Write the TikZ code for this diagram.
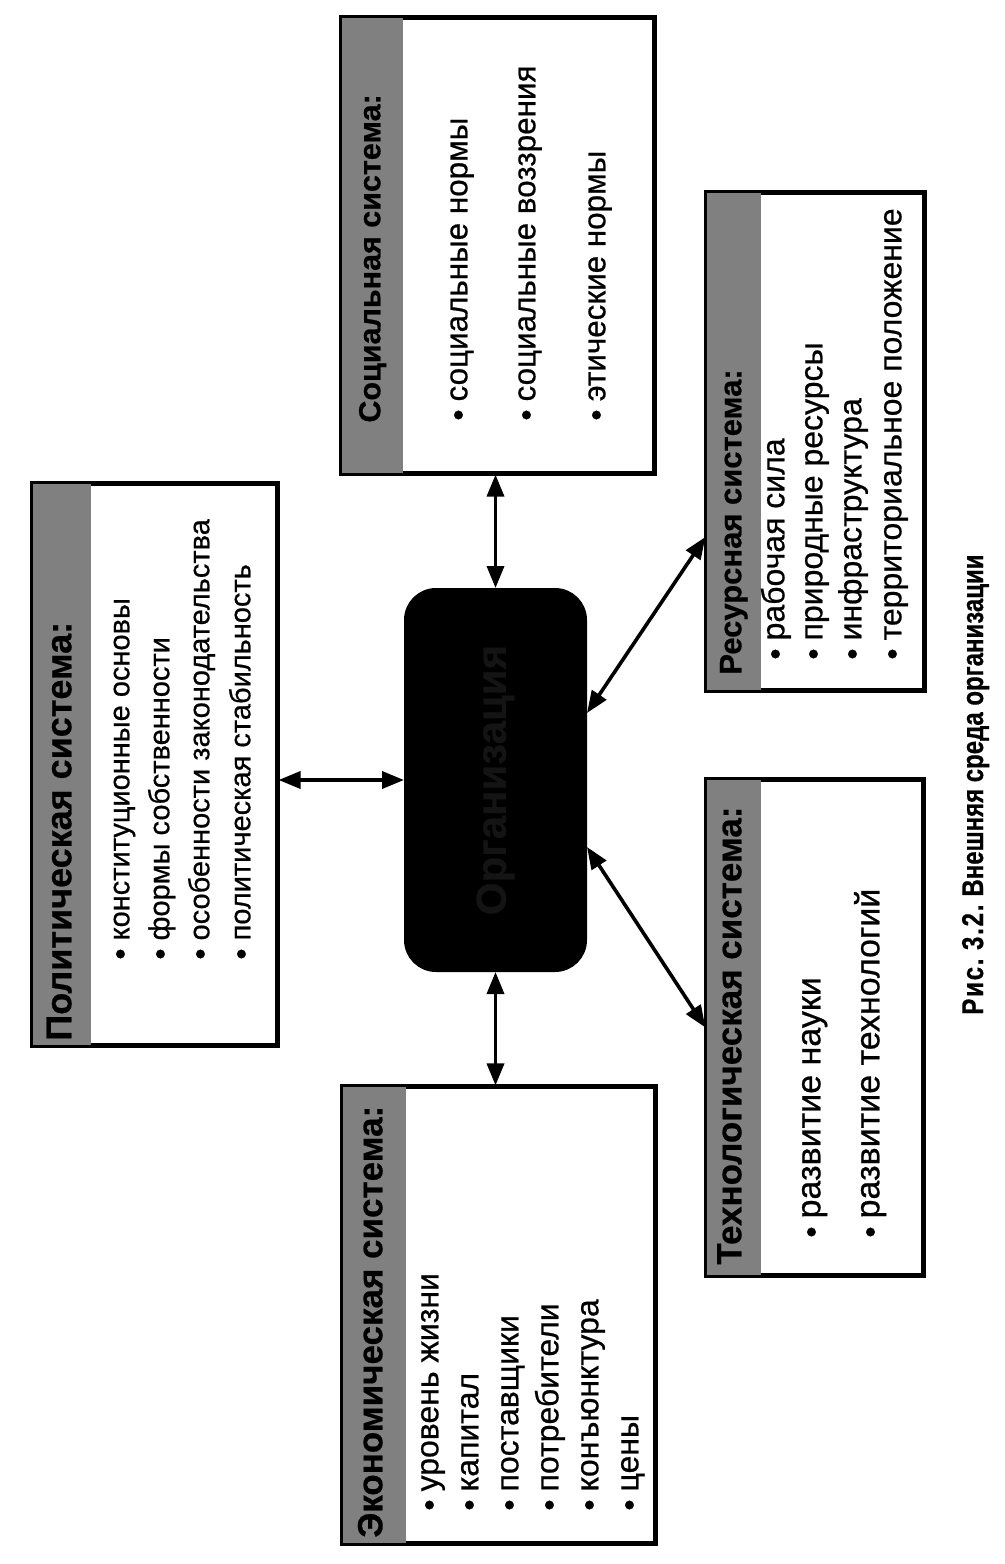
\documentclass[tikz,border=0pt]{standalone}
\usepackage{fontspec}
\setmainfont{Liberation Sans}[FakeBold=0.6]
\newfontfamily\capfont{Liberation Sans}[FakeStretch=0.8,FakeBold=0.6]
\usetikzlibrary{fit,arrows.meta}
\newcommand{\bul}{\raisebox{-0.9pt}{\fontsize{16pt}{16pt}\selectfont •}\hspace{4pt}}
\begin{document}
\begin{tikzpicture}[x=0.5pt,y=-0.5pt,
  box/.style={draw, line width=1.6pt, inner sep=0pt, fill=white},
  band/.style={fill=black!50},
  frame/.style={draw, line width=1.6pt},
  item/.style={rotate=90, anchor=mid west, inner sep=0pt, font=\fontsize{#1}{#1}\selectfont},
  head/.style={rotate=90, anchor=mid west, inner sep=0pt, font=\bfseries\fontsize{#1}{#1}\selectfont},
  link/.style={line width=1.8pt, {Triangle[length=11pt,width=8.5pt]}-{Triangle[length=11pt,width=8.5pt]}},
]
\useasboundingbox (0,0) rectangle (1005,1564);

% ---------- boxes ----------
\node[box, fit={(33,484) (277,1045)}] (pol) {};
\fill[band] (pol.north west) rectangle ([xshift=30pt]pol.south west);
\draw[frame] (pol.north west) rectangle (pol.south east);

\node[box, fit={(342,18) (654,473)}] (soc) {};
\fill[band] (soc.north west) rectangle ([xshift=31.5pt]soc.south west);
\draw[frame] (soc.north west) rectangle (soc.south east);

\node[box, fit={(707,193) (924,690)}] (res) {};
\fill[band] (res.north west) rectangle ([xshift=28pt]res.south west);
\draw[frame] (res.north west) rectangle (res.south east);

\node[box, fit={(707,780) (923,1275)}] (tec) {};
\fill[band] (tec.north west) rectangle ([xshift=28pt]tec.south west);
\draw[frame] (tec.north west) rectangle (tec.south east);

\node[box, fit={(343,1087) (655,1543)}] (eco) {};
\fill[band] (eco.north west) rectangle ([xshift=32.5pt]eco.south west);
\draw[frame] (eco.north west) rectangle (eco.south east);

% ---------- centre ----------
\node[fit={(406,590) (585,970)}, inner sep=0pt, draw, fill=black,
      rounded corners=15pt, line width=2pt] (org) {};
\node[rotate=90, inner sep=0pt, text=black!92,
      font=\bfseries\fontsize{21pt}{21pt}\selectfont] (orgt) at (org.center) {Организация};

% ---------- headers ----------
\node[head=18pt]    (polh) at (66,1041)  {Политическая система:};
\node[head=15.25pt] (soch) at (375,423)  {Социальная система:};
\node[head=15.5pt]  (resh) at (736,675)  {Ресурсная система:};
\node[head=17.5pt]  (tech) at (736,1265) {Технологическая система:};
\node[head=17.5pt]  (ecoh) at (377,1538) {Экономическая система:};

% ---------- items ----------
\node[item=14.5pt] (pol1) at (124,960) {\bul конституционные основы};
\node[item=14.5pt] (pol2) at (164,960) {\bul формы собственности};
\node[item=14.5pt] (pol3) at (204,960) {\bul особенности законодательства};
\node[item=14.5pt] (pol4) at (245,960) {\bul политическая стабильность};

\node[item=15.7pt] (soc1) at (462,421) {\bul социальные нормы};
\node[item=15.7pt] (soc2) at (530,421) {\bul социальные воззрения};
\node[item=15.7pt] (soc3) at (600,421) {\bul этические нормы};

\node[item=16pt] (res1) at (779,660) {\bul рабочая сила};
\node[item=16pt] (res2) at (817,660) {\bul природные ресурсы};
\node[item=16pt] (res3) at (856,660) {\bul инфраструктура};
\node[item=16pt] (res4) at (896,660) {\bul территориальное положение};

\node[item=17pt] (tec1) at (815,1238) {\bul развитие науки};
\node[item=17pt] (tec2) at (874,1238) {\bul развитие технологий};

\node[item=16pt] (eco1) at (433,1511) {\bul уровень жизни};
\node[item=16pt] (eco2) at (473,1511) {\bul капитал};
\node[item=16pt] (eco3) at (513,1511) {\bul поставщики};
\node[item=16pt] (eco4) at (553,1511) {\bul потребители};
\node[item=16pt] (eco5) at (593,1511) {\bul конъюнктура};
\node[item=16pt] (eco6) at (633,1511) {\bul цены};

% ---------- connectors ----------
\draw[link] (org.north) -- (org.north |- soc.south);
\draw[link] (org.south) -- (org.south |- eco.north);
\draw[link] (org.west) -- (org.west -| pol.east);
\draw[link] ([yshift=33.5pt]org.east) -- ([yshift=-47.75pt]res.west);
\draw[link] ([yshift=-33.5pt]org.east) -- (tec.west);

% ---------- caption ----------
\node[rotate=90, anchor=base west, inner sep=0pt,
      font=\capfont\bfseries\fontsize{15pt}{15pt}\selectfont] (cap) at (983,1015)
      {{\addfontfeatures{LetterSpace=6}Рис.~3.2.}\hspace{4pt}Внешняя среда организации};
\end{tikzpicture}
\end{document}
